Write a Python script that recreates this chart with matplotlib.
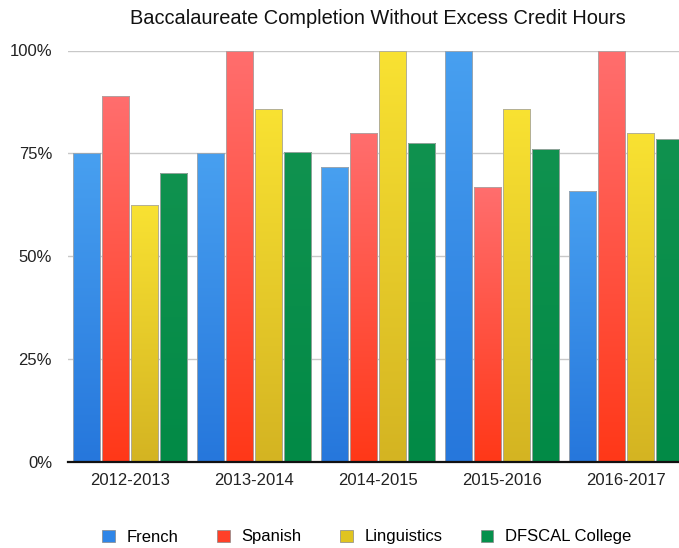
import numpy as np
import matplotlib.pyplot as plt
import matplotlib.colors as colors
from matplotlib.patches import Rectangle

plt.rcParams['font.family'] = ['Liberation Sans', 'DejaVu Sans']

years = ['2012-2013', '2013-2014', '2014-2015', '2015-2016', '2016-2017']
series_names = ['French', 'Spanish', 'Linguistics', 'DFSCAL College']
french = [0.75, 0.75, 0.716, 1.00, 0.659]
spanish = [0.889, 1.00, 0.80, 0.667, 1.00]
linguistics = [0.625, 0.857, 1.00, 0.857, 0.80]
dfscal = [0.702, 0.753, 0.776, 0.760, 0.784]
yticks = [0, 0.25, 0.5, 0.75, 1.0]
ytick_labels = ['0%', '25%', '50%', '75%', '100%']

# top colour, bottom colour for the glossy gradient
col_pairs = [('#48a0f0', '#2677dc'),
             ('#ff6e6e', '#ff3818'),
             ('#f9e232', '#d4b422'),
             ('#10924f', '#028a46')]
legend_cols = ['#2f86e8', '#ff4028', '#e0c420', '#05904c']

fig = plt.figure(figsize=(6.79, 5.48), dpi=100)
ax = fig.add_axes([68 / 679, 86.5 / 548, 620 / 679, 411 / 548])

values = [french, spanish, linguistics, dfscal]
x = np.arange(len(years))
step = 0.234
width = 0.218


def gradient_bar(ax, patch, c_top, c_bot):
    x0, y0 = patch.get_x(), patch.get_y()
    w, h = patch.get_width(), patch.get_height()
    cmap = colors.LinearSegmentedColormap.from_list('g', [c_bot, c_top])
    grad = np.linspace(0, 1, 256).reshape(-1, 1)
    im = ax.imshow(grad, cmap=cmap, origin='lower', aspect='auto',
                   extent=(x0, x0 + w, y0, y0 + h), zorder=2)
    im.set_clip_path(patch)


for i, vals in enumerate(values):
    offs = (i - 1.5) * step
    bars = ax.bar(x + offs, vals, width, facecolor='none', edgecolor='#a8a8a8',
                  linewidth=0.6, zorder=3)
    for b in bars:
        gradient_bar(ax, b, col_pairs[i][0], col_pairs[i][1])

ax.set_xlim(-0.5, len(years) - 0.5)
ax.set_ylim(0, 1.0)
ax.set_yticks(yticks)
ax.set_yticklabels(ytick_labels, fontsize=12, color='#222222')
ax.set_xticks(x)
ax.set_xticklabels(years, fontsize=12, color='#222222')
ax.tick_params(length=0, pad=8)
ax.tick_params(axis='y', pad=11.5)
ax.yaxis.grid(True, color='#c8c8c8', linewidth=1.0, zorder=0)
ax.set_axisbelow(True)
for s in ['top', 'right', 'left']:
    ax.spines[s].set_visible(False)
ax.spines['bottom'].set_color('#111111')
ax.spines['bottom'].set_linewidth(1.6)
ax.spines['bottom'].set_zorder(5)

fig.text(378 / 679, 1 - 19 / 548, 'Baccalaureate Completion Without Excess Credit Hours',
         ha='center', va='center', fontsize=14.4, color='#111111')

handles = [Rectangle((0, 0), 1, 1, facecolor=c, edgecolor='#888888', linewidth=0.5)
           for c in legend_cols]
fig.legend(handles, series_names, loc='center', bbox_to_anchor=(367 / 679, 1 - 537 / 548),
           ncol=4, frameon=False, fontsize=12, handlelength=0.75, handleheight=0.75,
           columnspacing=2.3, handletextpad=0.72)

fig.savefig('out.png', dpi=100)
